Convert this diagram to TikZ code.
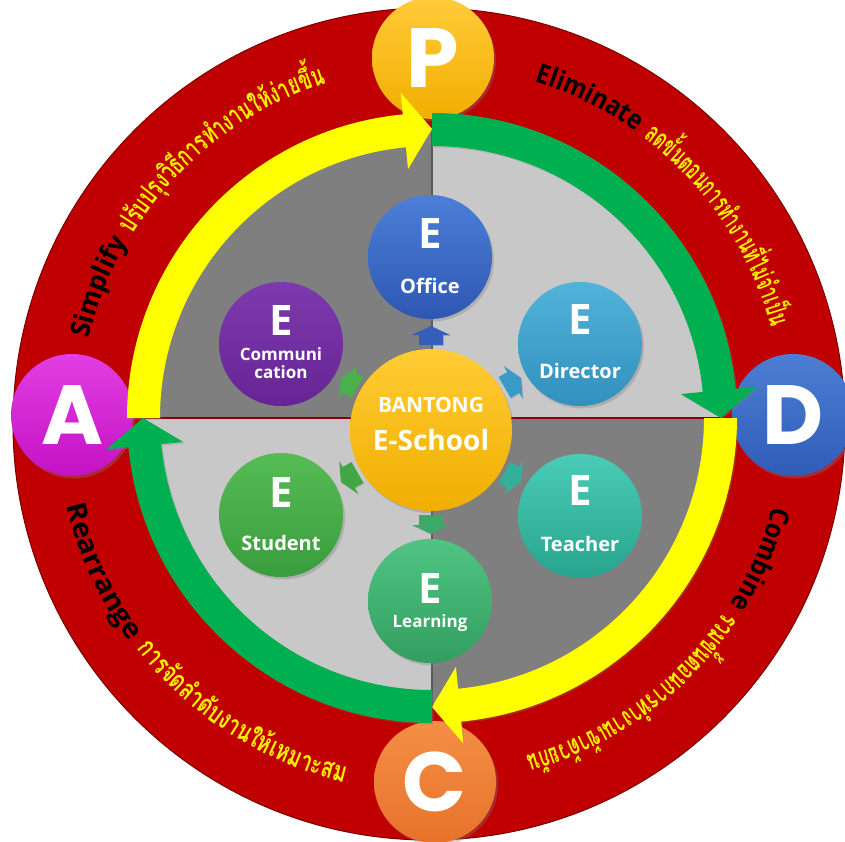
\documentclass[tikz,border=0pt]{standalone}
\usepackage{fontspec}
\setmainfont{Open Sans}
\newfontfamily\thaifont[Script=Thai]{Loma}
\newfontfamily\bigfont{Poppins}
\usetikzlibrary{shadows}

\definecolor{ringred}{HTML}{C00000}
\definecolor{ringedge}{HTML}{7A0000}
\definecolor{darkq}{HTML}{7F7F7F}
\definecolor{lightq}{HTML}{C8C8C8}
\definecolor{arrY}{HTML}{FFFF00}
\definecolor{arrG}{HTML}{00B050}
\definecolor{thaiY}{HTML}{FFEE00}
\definecolor{divred}{HTML}{8B0000}
\definecolor{divgray}{HTML}{5A5A5A}
\definecolor{pTop}{HTML}{FFCB3A}\definecolor{pBot}{HTML}{F2AE00}
\definecolor{aTop}{HTML}{E23EE2}\definecolor{aBot}{HTML}{C412C4}
\definecolor{dTop}{HTML}{4D7ED3}\definecolor{dBot}{HTML}{2F5CB8}
\definecolor{cTop}{HTML}{F38F45}\definecolor{cBot}{HTML}{E8722A}
\definecolor{offTop}{HTML}{4C7FD8}\definecolor{offBot}{HTML}{2E57B3}
\definecolor{dirTop}{HTML}{52B3DA}\definecolor{dirBot}{HTML}{3290BD}
\definecolor{comTop}{HTML}{7C3AAE}\definecolor{comBot}{HTML}{662494}
\definecolor{stuTop}{HTML}{56BC55}\definecolor{stuBot}{HTML}{3A9D3D}
\definecolor{teaTop}{HTML}{4ACCB6}\definecolor{teaBot}{HTML}{28A48E}
\definecolor{lrnTop}{HTML}{50C482}\definecolor{lrnBot}{HTML}{329E60}
\definecolor{cenTop}{HTML}{FFCC35}\definecolor{cenBot}{HTML}{F0AE00}

\tikzset{
  softshadow/.style={drop shadow={opacity=0.35, shadow xshift=2pt, shadow yshift=-2.5pt}},
  lettercirc/.style={circle, minimum size=122pt, inner sep=0pt, text=white,
    font=\bigfont\bfseries\fontsize{84}{84}\selectfont, softshadow},
  satcirc/.style={circle, minimum size=124pt, inner sep=0pt, softshadow},
  cencirc/.style={circle, minimum size=162pt, inner sep=0pt, softshadow},
  ebig/.style={text=white, font=\bfseries\fontsize{42}{42}\selectfont, anchor=base, inner sep=0pt},
  elabel/.style={text=white, font=\bfseries\fontsize{20}{20}\selectfont, anchor=base, inner sep=0pt},
  esmall/.style={text=white, font=\bfseries\fontsize{17}{17}\selectfont, anchor=base, inner sep=0pt},
}

\newsavebox\arcbox
\newlength\arclen
\newcount\arcnum
% measure #2 in font #1 into \arclen (globally)
\newcommand\arcmeasure[2]{%
  \begin{pgfinterruptpicture}%
    \sbox\arcbox{\normalfont#1#2}\global\arclen=\wd\arcbox
  \end{pgfinterruptpicture}%
}
% #1 radius, #2 start angle, #3 end angle, #4 font, #5 colour, #6 list of clusters
\newcommand\arcfit[6]{%
  \gdef\arctot{0}%
  \foreach \arcch in {#6}{%
    \arcmeasure{#4}{\arcch}%
    \pgfmathsetmacro\arctmp{\arctot+\arclen}%
    \xdef\arctot{\arctmp}%
  }%
  \pgfmathsetmacro\arcspan{(#3)-(#2)}%
  \pgfmathsetmacro\arcdir{sign(\arcspan)}%
  \pgfmathsetmacro\arcxs{abs(\arcspan)/57.29578*(#1)/max(\arctot,1)}%
  \xdef\arcang{#2}%
  \foreach \arcch in {#6}{%
    \arcmeasure{#4}{\arcch}%
    \pgfmathsetmacro\arcstep{\arclen/max(\arctot,1)*(\arcspan)}%
    \pgfmathsetmacro\arcmid{\arcang+\arcstep/2}%
    \pgfmathsetmacro\arcrot{\arcmid+\arcdir*90}%
    \global\advance\arcnum by 1
    \node[name=arcg\the\arcnum, anchor=base, inner sep=0pt, outer sep=0pt, font=#4, text=#5,
          rotate=\arcrot, xscale=\arcxs] at (\arcmid:#1) {\arcch};
    \pgfmathsetmacro\arcnew{\arcang+\arcstep}%
    \xdef\arcang{\arcnew}%
  }%
}
% ring arrow: #1 colour, #2 start angle, #3 head base angle, #4 tip angle
\newcommand\ringarrow[4]{%
  \fill[#1, drop shadow={opacity=0.3, shadow xshift=1.5pt, shadow yshift=-1.5pt}]
    (#2:305) arc[start angle=#2, end angle=#3, radius=305] -- (#3:327) -- (#4:289)
    -- (#3:250) -- (#3:272) arc[start angle=#3, end angle=#2, radius=272] -- cycle;
}
% small block arrow from the centre: #1 angle, #2 colour
\newcommand\minarrow[2]{%
  \begin{scope}[shift={(cen.center)}, rotate=#1]
    \fill[#2, drop shadow={opacity=0.3, shadow xshift=1pt, shadow yshift=-1pt}]
      (85,-12) -- (95,-12) -- (95,-19) -- (104,0) -- (95,19) -- (95,12) -- (85,12) -- cycle;
  \end{scope}%
}

\begin{document}
\begin{tikzpicture}[x=1pt, y=1pt]
\useasboundingbox (-432,-423) rectangle (413,418);

% red ring
\fill[ringred, draw=ringedge, line width=1pt] (-3,-6) circle (416);

% quadrants
\fill[darkq]  (0,0) -- (180:290) arc[start angle=180, end angle=90, radius=290] -- cycle;
\fill[lightq] (0,0) -- (90:290) arc[start angle=90, end angle=0, radius=290] -- cycle;
\fill[darkq]  (0,0) -- (0:290) arc[start angle=0, end angle=-90, radius=290] -- cycle;
\fill[lightq] (0,0) -- (-90:290) arc[start angle=-90, end angle=-180, radius=290] -- cycle;
\draw[divred, line width=1.5pt] (180:305) -- (0:305);
\draw[divgray, line width=1.2pt] (90:289) -- (-90:289);

% PDCA circles
\node[lettercirc, top color=pTop, bottom color=pBot] (P) at (1,360) {P};
\node[lettercirc, top color=aTop, bottom color=aBot] (A) at (-360,3) {A};
\node[lettercirc, top color=dTop, bottom color=dBot] (D) at (361,3) {D};
\node[lettercirc, top color=cTop, bottom color=cBot] (C) at (3,-364) {C};

% ring arrows
\ringarrow{arrY}{180}{95.5}{90}
\ringarrow{arrG}{90}{5.5}{0}
\ringarrow{arrY}{0}{-84.5}{-90}
\ringarrow{arrG}{-90}{-174.5}{-180}

% centre
\node[cencirc, top color=cenTop, bottom color=cenBot] (cen) at (-1,-12) {};
\node[text=white, font=\bfseries\fontsize{21}{21}\selectfont, anchor=base, inner sep=0pt]
  (cenT) at ([yshift=18pt]cen.center) {BANTONG};
\node[text=white, font=\bfseries\fontsize{28}{28}\selectfont, anchor=base, inner sep=0pt]
  (cenB) at ([yshift=-20pt]cen.center) {E-School};

% satellites
\node[satcirc, top color=offTop, bottom color=offBot] (office) at (-2,161) {};
\node[satcirc, top color=dirTop, bottom color=dirBot] (director) at (148,74) {};
\node[satcirc, top color=teaTop, bottom color=teaBot] (teacher) at (148,-98) {};
\node[satcirc, top color=lrnTop, bottom color=lrnBot] (learning) at (-2,-183) {};
\node[satcirc, top color=stuTop, bottom color=stuBot] (student) at (-151,-97) {};
\node[satcirc, top color=comTop, bottom color=comBot] (comm) at (-151,74) {};

\node[ebig] (officeE) at ([yshift=9pt]office.center) {E};
\node[elabel] (officeL) at ([yshift=-36pt]office.center) {Office};
\node[ebig] (directorE) at ([yshift=10pt]director.center) {E};
\node[elabel] (directorL) at ([yshift=-34pt]director.center) {Director};
\node[ebig] (teacherE) at ([yshift=11pt]teacher.center) {E};
\node[elabel] (teacherL) at ([yshift=-35pt]teacher.center) {Teacher};
\node[ebig] (learningE) at ([yshift=-2pt]learning.center) {E};
\node[esmall] (learningL) at ([yshift=-26pt]learning.center) {Learning};
\node[ebig] (studentE) at ([yshift=8pt]student.center) {E};
\node[elabel] (studentL) at ([yshift=-35pt]student.center) {Student};
\node[ebig] (commE) at ([yshift=9pt]comm.center) {E};
\node[esmall] (commL1) at ([yshift=-16pt]comm.center) {Communi};
\node[esmall] (commL2) at ([yshift=-34pt]comm.center) {cation};

% small arrows
\minarrow{90}{offBot!80!offTop}
\minarrow{30}{dirBot!70!dirTop}
\minarrow{-30}{teaBot!70!teaTop}
\minarrow{-90}{lrnBot!70!lrnTop}
\minarrow{-150}{stuBot!70!stuTop}
\minarrow{150}{stuTop!60!stuBot}

% ring texts
\arcfit{352}{167}{150}{\bfseries\fontsize{27}{27}\selectfont}{black}{S,i,m,p,l,i,f,y}
\arcfit{351}{148.5}{107.5}{\thaifont\bfseries\fontsize{28}{28}\selectfont}{thaiY}{ป,รั,บ,ป,รุ,ง,วิ,ธี,ก,า,ร,ทำ,ง,า,น,ใ,ห้,ง่,า,ย,ขึ้,น}
\arcfit{352}{73}{54.5}{\bfseries\fontsize{27}{27}\selectfont}{black}{E,l,i,m,i,n,a,t,e}
\arcfit{351}{53}{15}{\thaifont\bfseries\fontsize{28}{28}\selectfont}{thaiY}{ล,ด,ขั้,น,ต,อ,น,ก,า,ร,ทำ,ง,า,น,ที่,ไ,ม่,จำ,เ,ป็,น}
\arcfit{376}{193.5}{216.5}{\bfseries\fontsize{27}{27}\selectfont}{black}{R,e,a,r,r,a,n,g,e}
\arcfit{375}{218}{256.5}{\thaifont\bfseries\fontsize{28}{28}\selectfont}{thaiY}{ก,า,ร,จั,ด,ลำ,ดั,บ,ง,า,น,ใ,ห้,เ,ห,ม,า,ะ,ส,ม}
\arcfit{352}{-14.5}{-32}{\bfseries\fontsize{27}{27}\selectfont}{black}{C,o,m,b,i,n,e}
\arcfit{351}{-33.5}{-74.5}{\thaifont\bfseries\fontsize{28}{28}\selectfont}{thaiY}{ร,ว,ม,ขั้,น,ต,อ,น,ก,า,ร,ทำ,ง,า,น,เ,ข้,า,ด้,ว,ย,กั,น}
\end{tikzpicture}
\end{document}
